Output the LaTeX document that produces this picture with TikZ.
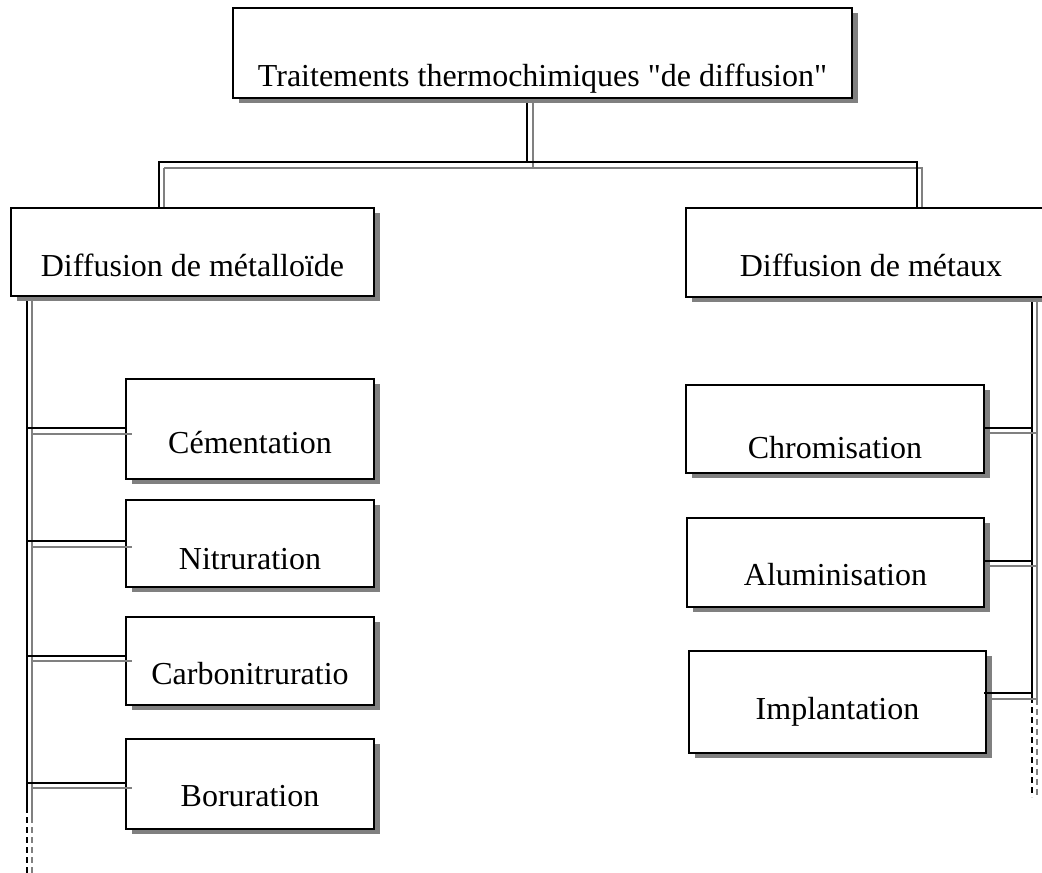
\documentclass[tikz,border=0pt]{standalone}
\usepackage{fontspec}
\newfontfamily\boxfont{Liberation Serif}
\usetikzlibrary{shadows}

\tikzset{
  box/.style={draw, line width=2pt, fill=white, inner sep=0pt, anchor=north west,
    font=\boxfont\fontsize{32}{38}\selectfont,
    drop shadow={shadow xshift=6pt, shadow yshift=-5pt, fill=black!50, opacity=1}},
  link/.style={line width=2pt, black},
  linkshade/.style={line width=2pt, black!50},
  tail/.style={dash pattern=on 6pt off 4pt}
}

\begin{document}
\begin{tikzpicture}[x=1pt, y=-1pt]
        \useasboundingbox (0,0) rectangle (1042,873);
        % \draw[help lines, step=50] (0,0) grid (1042,873);

        % junction points of the tree
        \coordinate (jt) at (527,162);
        \coordinate (jl) at (159,162);
        \coordinate (jr) at (917,162);
        \coordinate (sl) at (27,295);
        \coordinate (el) at (27,873);
        \coordinate (sr) at (1032,296);
        \coordinate (er) at (1032,797);

        % connectors first, the boxes sit on top of them
        \draw[linkshade] ([xshift=6pt]jt |- 0,97) -- ([xshift=6pt, yshift=-6pt]jt);
        \draw[linkshade] ([xshift=5pt, yshift=-6pt]jl) -- ([xshift=5pt, yshift=-6pt]jr) -- ([xshift=5pt]jr |- 0,212);
        \draw[linkshade] ([xshift=5pt, yshift=-6pt]jl) -- ([xshift=5pt]jl |- 0,212);
        \draw[link] (jt |- 0,97) -- (jt);
        \draw[link] (jl |- 0,207) -- (jl) -- (jr) -- (jr |- 0,207);

        \draw[linkshade] ([xshift=5pt]sl) -- ([xshift=5pt]sl |- 0,817);
        \draw[linkshade, tail] ([xshift=5pt]sl |- 0,817) -- ([xshift=5pt]el);
        \draw[link] (sl) -- (sl |- 0,807);
        \draw[link, tail] (sl |- 0,807) -- (el);

        \draw[linkshade] ([xshift=5pt]sr) -- ([xshift=5pt]sr |- 0,699);
        \draw[linkshade, tail] ([xshift=5pt]sr |- 0,699) -- ([xshift=5pt]er);
        \draw[link] (sr) -- (sr |- 0,697);
        \draw[link, tail] (sr |- 0,697) -- (er);

        \draw node (tt) [box, minimum width=619pt, text height=78pt, text depth=12pt] at (232,7) {Traitements thermochimiques "de diffusion"};

        \draw node (met) [box, minimum width=363pt, text height=68pt, text depth=20pt] at (10,207) {Diffusion de métalloïde};
        \draw node (mtx) [box, minimum width=370pt, text height=68pt, text depth=21pt] at (685,207) {Diffusion de métaux};

        \draw node (cem) [box, minimum width=248pt, text height=74pt, text depth=26pt] at (125,378) {Cémentation};
        \draw node (nit) [box, minimum width=248pt, text height=69pt, text depth=18pt] at (125,499) {Nitruration};
        \draw node (carb) [box, minimum width=248pt, text height=67pt, text depth=21pt] at (125,616) {Carbonitruratio};
        \draw node (bor) [box, minimum width=248pt, text height=67pt, text depth=23pt] at (125,738) {Boruration};

        \draw node (chr) [box, minimum width=298pt, text height=73pt, text depth=15pt] at (685,384) {Chromisation};
        \draw node (alu) [box, minimum width=297pt, text height=67pt, text depth=22pt] at (686,517) {Aluminisation};
        \draw node (imp) [box, minimum width=297pt, text height=68pt, text depth=34pt] at (688,650) {Implantation};

        % branches to the left column
        \draw[linkshade] ([xshift=5pt]sl |- 0,434) -- ([xshift=7pt]cem.west |- 0,434);
        \draw[linkshade] ([xshift=5pt]sl |- 0,547) -- ([xshift=7pt]nit.west |- 0,547);
        \draw[linkshade] ([xshift=5pt]sl |- 0,661) -- ([xshift=7pt]carb.west |- 0,661);
        \draw[linkshade] ([xshift=5pt]sl |- 0,788) -- ([xshift=7pt]bor.west |- 0,788);
        \draw[link] (sl |- 0,428) -- (cem.west |- 0,428);
        \draw[link] (sl |- 0,541) -- (nit.west |- 0,541);
        \draw[link] (sl |- 0,656) -- (carb.west |- 0,656);
        \draw[link] (sl |- 0,783) -- (bor.west |- 0,783);

        % branches to the right column
        \draw[linkshade] ([xshift=5pt]chr.east |- 0,433) -- ([xshift=5pt]sr |- 0,433);
        \draw[linkshade] ([xshift=5pt]alu.east |- 0,566) -- ([xshift=5pt]sr |- 0,566);
        \draw[linkshade] ([xshift=3pt]imp.east |- 0,699) -- ([xshift=5pt]sr |- 0,699);
        \draw[link] (chr.east |- 0,428) -- (sr |- 0,428);
        \draw[link] (alu.east |- 0,561) -- (sr |- 0,561);
        \draw[link] ([xshift=-3pt]imp.east |- 0,693) -- (sr |- 0,693);

\end{tikzpicture}
\end{document}
